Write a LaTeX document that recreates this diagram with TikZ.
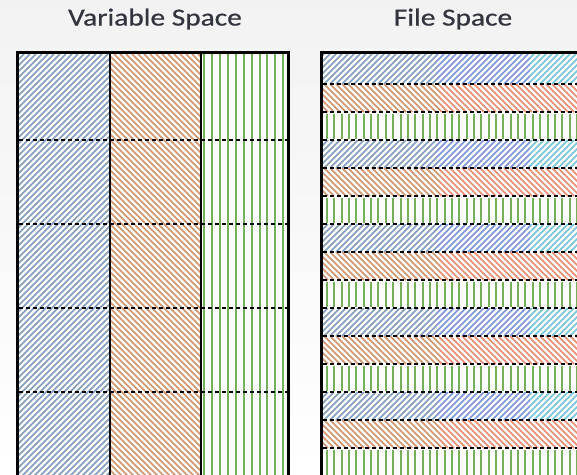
\documentclass[tikz,border=0pt]{standalone}
\usepackage{fontspec}
\setmainfont{Carlito}
\newfontfamily\titlefont[FakeBold=0.6]{Carlito}
\usetikzlibrary{positioning}

\definecolor{titlegray}{RGB}{50,52,62}
\definecolor{hatchsteel}{RGB}{128,156,186}
\definecolor{hatchblue}{RGB}{122,146,216}
\definecolor{hatchcyan}{RGB}{116,196,216}
\definecolor{hatchbrown}{RGB}{206,146,108}
\definecolor{hatchred}{RGB}{234,138,114}
\definecolor{hatchgreen}{RGB}{118,176,88}

\tikzset{
  hatchline/.style={line width=1.5pt},
  greenline/.style={line width=2pt,hatchgreen},
  outerbox/.style={line width=3pt,black},
  divider/.style={line width=1.3pt,black},
  rowline/.style={line width=1.3pt,black,dash pattern=on 4pt off 3pt},
  title/.style={text=titlegray,font=\titlefont\fontsize{24.5}{28}\selectfont,xscale=1.2}
}

% diagonal hatching, x+y = const (up to the right)
\newcommand{\hatchne}[5]{%
  \begin{scope}
    \clip (#1,#2) rectangle (#3,#4);
    \pgfmathtruncatemacro{\kfrom}{floor((#1+#2)/6)-1}
    \pgfmathtruncatemacro{\kto}{ceil((#3+#4)/6)+1}
    \foreach \k in {\kfrom,...,\kto}
      \draw[hatchline,#5] ({6*\k-#4},#4) -- ({6*\k-#2},#2);
  \end{scope}}
% diagonal hatching, x-y = const (down to the right)
\newcommand{\hatchnw}[5]{%
  \begin{scope}
    \clip (#1,#2) rectangle (#3,#4);
    \pgfmathtruncatemacro{\kfrom}{floor((#1-#4)/6)-1}
    \pgfmathtruncatemacro{\kto}{ceil((#3-#2)/6)+1}
    \foreach \k in {\kfrom,...,\kto}
      \draw[hatchline,#5] ({6*\k+#2},#2) -- ({6*\k+#4},#4);
  \end{scope}}

\begin{document}
\begin{tikzpicture}[x=1pt,y=-1pt]
\clip (0,0) rectangle (577,474);
\shade[top color=gray!10,bottom color=white] (0,0) rectangle (577,474);

\node[title] (vartitle) at (155,19) {Variable Space};
\node[title] (filetitle) at (453,19) {File Space};

% variable space: one column per variable
\fill[white] (17.5,52.5) rectangle (288.5,480);
\hatchne{19}{54}{110}{480}{hatchsteel}
\hatchnw{110}{54}{201}{480}{hatchbrown}
\begin{scope}
  \clip (201,54) rectangle (287,480);
  \foreach \k in {0,...,10}
    \draw[greenline] ({204+7.93*\k},54) -- ++(0,430);
\end{scope}
\foreach \y in {140,224,308,392}
  \draw[rowline] (19,\y) -- (287,\y);
\draw[divider] (110,52.5) -- (110,480);
\draw[divider] (201,52.5) -- (201,480);
\draw[outerbox] (17.5,480) -- (17.5,52.5) -- (288.5,52.5) -- (288.5,480);

% file space: records interleaved row by row
\fill[white] (321.5,52.5) rectangle (580,480);
\foreach \r in {0,...,4} {
  \pgfmathsetmacro{\ya}{ifthenelse(\r==0,54,56+84*\r)}
  \pgfmathsetmacro{\yb}{84+84*\r}
  \pgfmathsetmacro{\yc}{112+84*\r}
  \pgfmathsetmacro{\yd}{140+84*\r}
  \hatchne{323}{\ya}{437}{\yb}{hatchsteel}
  \hatchne{437}{\ya}{530}{\yb}{hatchblue}
  \hatchne{530}{\ya}{577}{\yb}{hatchcyan}
  \hatchnw{323}{\yb}{440}{\yc}{hatchbrown}
  \hatchnw{440}{\yb}{577}{\yc}{hatchred}
  \foreach \k in {0,...,34}
    \draw[greenline] ({327+7.35*\k},\yc+1.5) -- ({327+7.35*\k},\yd-1.5);
}
\foreach \k in {0,...,13}
  \draw[rowline] (323,84+28*\k) -- (577,84+28*\k);
\draw[outerbox] (321.5,480) -- (321.5,52.5) -- (580,52.5);
\end{tikzpicture}
\end{document}
